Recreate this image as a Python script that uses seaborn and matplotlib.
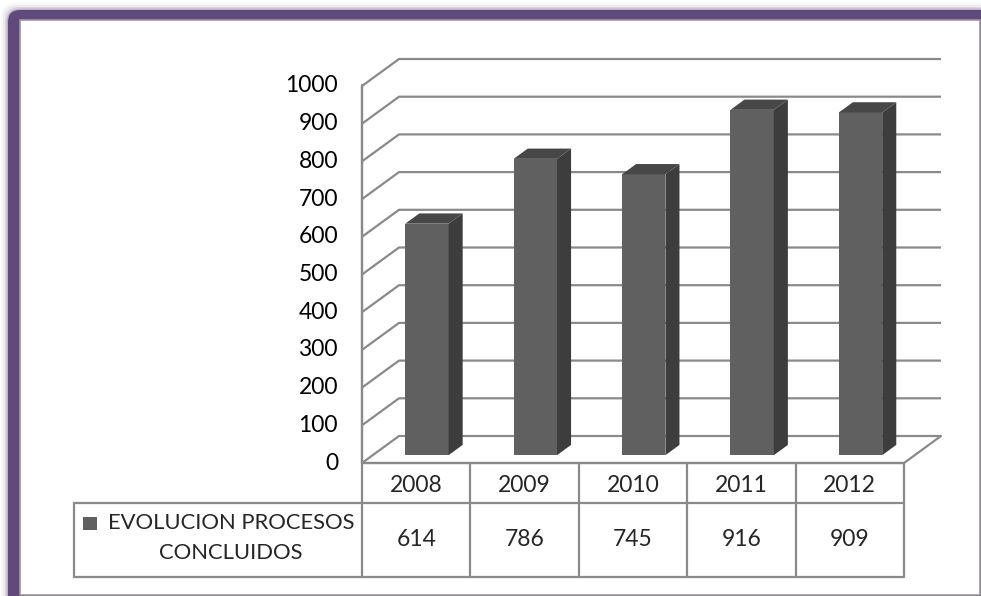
import matplotlib
matplotlib.use("Agg")
import matplotlib.pyplot as plt
from matplotlib.patches import Polygon, Rectangle, FancyBboxPatch
from matplotlib.transforms import Affine2D
import pandas as pd
import seaborn as sns

# Data
years = ["2008", "2009", "2010", "2011", "2012"]
procesos = [614, 786, 745, 916, 909]
series_lines = ["EVOLUCION PROCESOS", "CONCLUIDOS"]
y_ticks = list(range(0, 1001, 100))

# Colours
PURPLE = "#604a7b"
GRID = "#8a8a8a"
FRONT = "#606060"
SIDE = "#3d3d3d"
TOP = "#474747"

W, H = 981, 596
sns.set_theme(style="white")
plt.rcParams["font.family"] = ["Lato", "DejaVu Sans"]
FS = 16.5

fig = plt.figure(figsize=(W / 100, H / 100), dpi=100)
ax = fig.add_axes([0, 0, 1, 1])
ax.set_zorder(5)
# pixel coordinates measured from the top left corner
pxt = Affine2D().scale(1 / W, -1 / H).translate(0, 1) + fig.transFigure

# front plane of the fake 3d box, in pixels
X0, COL = 362, 108.4   # left edge, width of one category
Y0, PPU = 463, 0.377   # baseline, pixels per unit
dx, dy = 37 / COL, 27 / PPU   # wall depth in data units
f_front, f_depth = 0.29, 0.38  # bar position / depth within the box

# frame with soft shadow
for k, a in [(7, 0.04), (5, 0.07), (3, 0.12), (1.5, 0.25)]:
    fig.patches.append(FancyBboxPatch((8 - k, 10 - k), W + 40, H + 40,
                                      boxstyle="round,pad=0,rounding_size=14",
                                      transform=pxt, fc=PURPLE, ec="none", alpha=a))
fig.patches.append(FancyBboxPatch((8, 10), W + 40, H + 40,
                                  boxstyle="round,pad=0,rounding_size=12",
                                  transform=pxt, fc=PURPLE, ec="none"))
fig.patches.append(Rectangle((20, 20), 959.5, 575, transform=pxt,
                             fc="white", ec="#9a9a9a", lw=1.2))

# bars (front faces)
df = pd.DataFrame({"year": years, "value": procesos})
sns.barplot(data=df, x="year", y="value", order=years, color=FRONT,
            saturation=1, width=0.4, linewidth=0, ax=ax, zorder=3)

x0, x1 = -0.5, len(years) - 0.5
ax.set_xlim((0 - X0) / COL - 0.5, (W - X0) / COL - 0.5)
ax.set_ylim((Y0 - H) / PPU, Y0 / PPU)
ax.axis("off")

# walls and gridlines
for t in y_ticks:
    ax.plot([x0, x0 + dx, x1 + dx], [t, t + dy, t + dy], color=GRID, lw=1.6, zorder=1,
            solid_capstyle="butt")
ax.plot([x0, x0], [0, max(y_ticks)], color=GRID, lw=1.6, zorder=1)
ax.plot([x0, x1, x1 + dx], [0, 0, dy], color=GRID, lw=1.6, zorder=1)

# side and top faces from the bars seaborn drew
sx, sy = f_front * dx, f_front * dy
bx, by = f_depth * dx, f_depth * dy
shift = Affine2D().translate(sx, sy) + ax.transData
for bar in list(ax.patches):
    bar.set_transform(shift)
    xl = bar.get_x() + sx
    xr = xl + bar.get_width()
    yb = sy
    yt = bar.get_height() + sy
    ax.add_patch(Polygon([(xr, yb), (xr + bx, yb + by), (xr + bx, yt + by), (xr, yt)],
                         closed=True, fc=SIDE, ec="none", zorder=3))
    ax.add_patch(Polygon([(xl, yt), (xr, yt), (xr + bx, yt + by), (xl + bx, yt + by)],
                         closed=True, fc=TOP, ec="none", zorder=3))

# value axis labels
for t in y_ticks:
    fig.text(338, Y0 - PPU * t, str(t), transform=pxt, ha="right", va="center",
             fontsize=FS, color="black")

# data table
T_HEAD, T_MID, T_BOT = Y0, 503, 577
LEG_X = 74
n = len(years)
lw = 1.6
for k in range(n + 1):
    xk = X0 + COL * k
    top = 85 if k == 0 else T_HEAD
    fig.add_artist(plt.Line2D([xk, xk], [top, T_BOT], transform=pxt, color=GRID, lw=lw))
fig.add_artist(plt.Line2D([X0, X0 + COL * n], [T_HEAD, T_HEAD], transform=pxt, color=GRID, lw=lw))
fig.add_artist(plt.Line2D([LEG_X, X0 + COL * n], [T_MID, T_MID], transform=pxt, color=GRID, lw=lw))
fig.add_artist(plt.Line2D([LEG_X, X0 + COL * n], [T_BOT, T_BOT], transform=pxt, color=GRID, lw=lw))
fig.add_artist(plt.Line2D([LEG_X, LEG_X], [T_MID, T_BOT], transform=pxt, color=GRID, lw=lw))

for i, (yr, v) in enumerate(zip(years, procesos)):
    cx = X0 + COL * (i + 0.5)
    fig.text(cx, 486, yr, transform=pxt, ha="center", va="center", fontsize=FS)
    fig.text(cx, 540, str(v), transform=pxt, ha="center", va="center", fontsize=FS)

# legend key and series name
fig.patches.append(Rectangle((83, 517), 14, 13, transform=pxt, fc=FRONT, ec="none"))
fig.text(231, 523, series_lines[0], transform=pxt, ha="center", va="center", fontsize=15.8)
fig.text(231, 553, series_lines[1], transform=pxt, ha="center", va="center", fontsize=15.8)

fig.savefig("out.png", dpi=100, facecolor="white")
